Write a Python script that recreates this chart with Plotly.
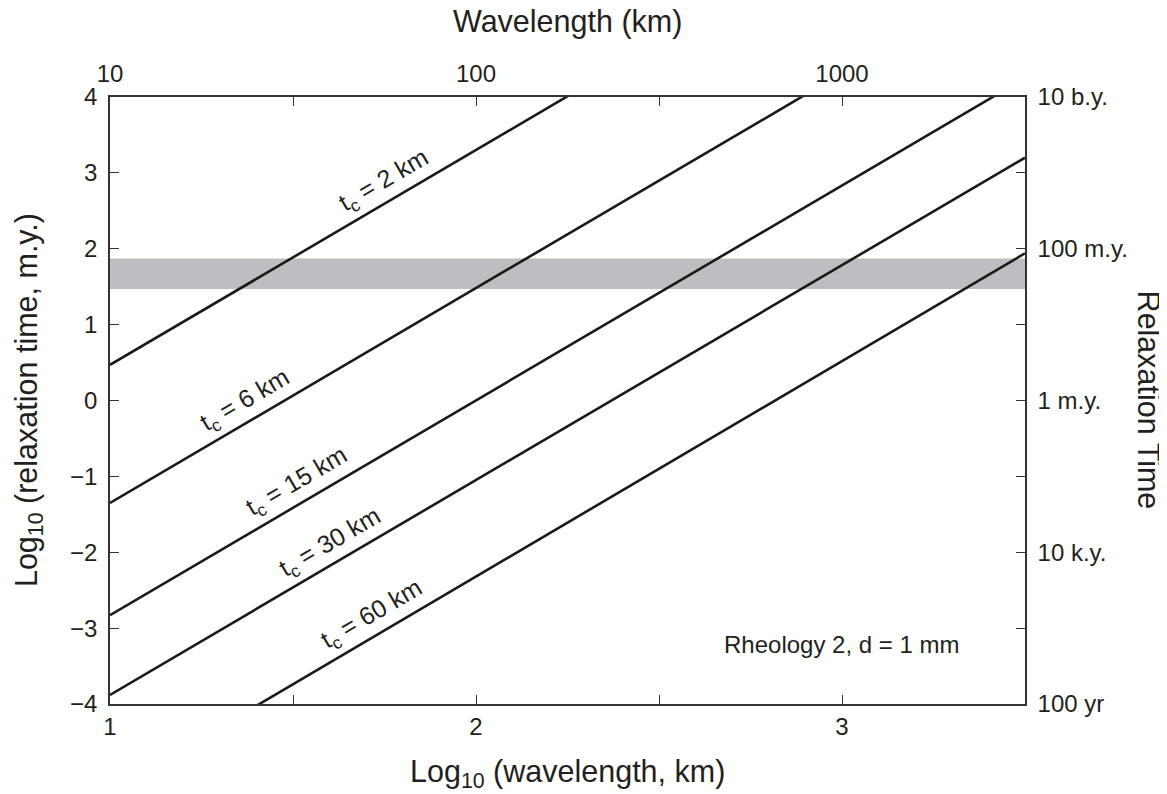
import numpy as np
import plotly.graph_objects as go

# ---- data ----
log_wavelength_ends = [1.0, 3.5]            # x endpoints of each line (Log10 wavelength, km)
line_names = ["2 km", "6 km", "15 km", "30 km", "60 km"]
log_time_at_start = [0.47, -1.35, -2.83, -3.88, -5.16]   # Log10 relaxation time at x = 1
log_time_at_end = [7.55, 5.73, 4.25, 3.20, 1.94]         # Log10 relaxation time at x = 3.5

band_low, band_high = 1.47, 1.87            # grey band (Log10 m.y.)

bottom_tickvals = [1, 1.5, 2, 2.5, 3]
bottom_ticktext = ["1", " ", "2", " ", "3"]
top_ticktext = ["10", " ", "100", " ", "1000"]

left_tickvals = [-4, -3, -2, -1, 0, 1, 2, 3, 4]
left_ticktext = ["\u22124", "\u22123", "\u22122", "\u22121", "0", "1", "2", "3", "4"]
right_ticktext = ["100 yr", " ", "10 k.y.", " ", "1 m.y.", " ", "100 m.y.", " ", "10 b.y."]

# label placement (x position along each line)
label_x = [1.749, 1.369, 1.512, 1.602, 1.715]

FONT = "Liberation Sans, Arial, Helvetica, sans-serif"
TXT = "#231f20"
AX = "#333333"

fig = go.Figure()

for name, y0, y1 in zip(line_names, log_time_at_start, log_time_at_end):
    fig.add_trace(go.Scatter(
        x=log_wavelength_ends, y=[y0, y1], mode="lines",
        line=dict(color="#1a1a1a", width=2.6), name=name,
        showlegend=False, hoverinfo="skip"))

# invisible trace to activate the secondary axes
fig.add_trace(go.Scatter(x=[1, 3.5], y=[-4, 4], xaxis="x2", yaxis="y2",
                         mode="markers", marker=dict(opacity=0),
                         showlegend=False, hoverinfo="skip"))

fig.add_shape(type="rect", xref="x", yref="y", x0=1, x1=3.5,
              y0=band_low, y1=band_high, fillcolor="#bdbec1",
              line=dict(width=0), layer="below")

# page body adds ~8px offset; compensate with a slightly smaller figure
W, H = 1159, 786
ML, MR, MT, MB = 102, 142, 89, 90

# slope in pixel space for text angle
plot_w, plot_h = W - ML - MR, H - MT - MB
for name, y0, y1, lx in zip(line_names, log_time_at_start, log_time_at_end, label_x):
    ly = float(np.interp(lx, log_wavelength_ends, [y0, y1]))
    slope = (y1 - y0) / (log_wavelength_ends[1] - log_wavelength_ends[0])
    ang = np.degrees(np.arctan(slope * (plot_h / 8.0) / (plot_w / 2.5)))
    fig.add_annotation(x=lx, y=ly, xref="x", yref="y",
                       xanchor="center", yanchor="middle",
                       text=f"t<sub>c</sub> = {name}", showarrow=False,
                       textangle=-ang, yshift=23,
                       font=dict(family=FONT, size=25, color=TXT))

fig.add_annotation(x=2.673, y=-3.21, xref="x", yref="y", xanchor="left",
                   yanchor="middle",
                   text="Rheology 2, d = 1 mm", showarrow=False,
                   font=dict(family=FONT, size=24, color=TXT))

# axis titles
title_font = dict(family=FONT, size=30.5, color=TXT)
fig.add_annotation(x=0.5, y=-0.1137, xref="paper", yref="paper",
                   xanchor="center", yanchor="middle",
                   text="Log<sub>10</sub> (wavelength, km)", showarrow=False,
                   font=title_font)
fig.add_annotation(x=0.5, y=1.1236, xref="paper", yref="paper",
                   xanchor="center", yanchor="middle",
                   text="Wavelength (km)", showarrow=False, font=title_font)
fig.add_annotation(x=-0.089, y=0.5, xref="paper", yref="paper",
                   xanchor="center", yanchor="middle",
                   text="Log<sub>10</sub> (relaxation time, m.y.)", showarrow=False,
                   textangle=-90, font=title_font)
fig.add_annotation(x=1.1365, y=0.5, xref="paper", yref="paper",
                   xanchor="center", yanchor="middle",
                   text="Relaxation Time", showarrow=False,
                   textangle=90, font=title_font)

tickfont = dict(family=FONT, size=24, color=TXT)
common = dict(showgrid=False, zeroline=False, showline=True, linecolor=AX,
              linewidth=1.5, ticks="inside", ticklen=9, tickwidth=1.3,
              tickcolor=AX, tickfont=tickfont, automargin=False)

fig.update_layout(
    width=W, height=H,
    margin=dict(l=ML, r=MR, t=MT, b=MB),
    paper_bgcolor="white", plot_bgcolor="white",
    xaxis=dict(range=[1, 3.5], tickvals=bottom_tickvals, ticktext=bottom_ticktext,
               ticklabelstandoff=0, **common),
    xaxis2=dict(range=[1, 3.5], overlaying="x", side="top", anchor="y",
                tickvals=bottom_tickvals, ticktext=top_ticktext,
                ticklabelstandoff=4, **common),
    yaxis=dict(range=[-4, 4], tickvals=left_tickvals, ticktext=left_ticktext,
               ticklabelstandoff=6, **common),
    yaxis2=dict(range=[-4, 4], overlaying="y", side="right", anchor="x",
                tickvals=left_tickvals, ticktext=right_ticktext,
                ticklabelstandoff=6, **common),
)

fig.write_html("out.html")
